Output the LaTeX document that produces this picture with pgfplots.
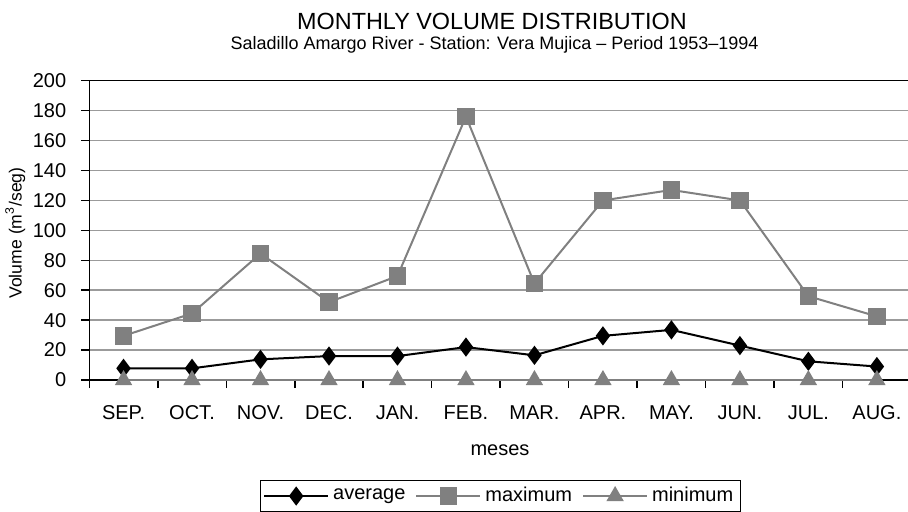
\documentclass[border=0pt]{standalone}
\usepackage{pgfplots}
\pgfplotsset{compat=1.18}
\usepackage{fontspec}
\setmainfont{Liberation Sans}

\definecolor{maxgray}{RGB}{128,128,128}
\definecolor{gridgray}{RGB}{155,155,155}

\begin{document}
\begin{tikzpicture}
\clip (-44.65pt,-65.5pt) rectangle (409.35pt,190pt);
\begin{axis}[
    at={(0pt,0pt)}, anchor=south west,
    scale only axis,
    width=410.9pt, height=149.65pt,
    xmin=-0.5, xmax=11.5,
    ymin=0, ymax=200,
    xtick={0,...,11},
    xticklabels={SEP.,OCT.,NOV.,DEC.,JAN.,FEB.,MAR.,APR.,MAY.,JUN.,JUL.,AUG.},
    minor xtick={-0.5,0.5,...,11.5},
    ytick={0,20,...,200},
    xtick pos=bottom, ytick pos=left,
    tick align=outside,
    major tick length=4pt, minor tick length=4pt,
    major x tick style={draw=none},
    every tick/.style={black, line width=0.75pt},
    axis line style={black, line width=0.75pt},
    ymajorgrids,
    major grid style={gridgray, line width=0.75pt},
    /pgf/number format/assume math mode=true,
    tick label style={font=\fontsize{10}{12}\selectfont},
    xticklabel style={anchor=base, yshift=-15.5pt},
    yticklabel style={anchor=east, xshift=-4pt},
    clip=false,
    legend columns=3,
    legend style={at={(0.5,-0.3876)}, anchor=center, draw=black, line width=0.6pt,
        font=\fontsize{10}{12}\selectfont, inner sep=1.5pt,
        /tikz/every even column/.append style={column sep=3pt}},
    legend image code/.code={\draw[mark repeat=2, mark phase=2]
        plot coordinates {(0pt,0pt) (16pt,0pt) (32pt,0pt)};},
]
\addplot[black, line width=1pt, mark=diamond*, mark size=4pt, mark options={solid, fill=black}]
coordinates {(0,7.8) (1,7.8) (2,13.8) (3,16) (4,16) (5,22) (6,16.5) (7,29.5) (8,33.5) (9,23) (10,12.5) (11,9)};
\addlegendentry{average}
\addplot[maxgray, line width=1pt, mark=square*, mark size=3.9pt, mark options={solid, fill=maxgray}]
coordinates {(0,29.5) (1,44.5) (2,84.5) (3,52) (4,69.5) (5,176) (6,64.5) (7,120) (8,127) (9,120) (10,56) (11,42.5)};
\addlegendentry{maximum}
\addplot[maxgray, line width=1pt, mark=triangle*, mark size=4pt, mark options={solid, fill=maxgray}]
coordinates {(0,0) (1,0) (2,0) (3,0) (4,0) (5,0) (6,0) (7,0) (8,0) (9,0) (10,0) (11,0)};
\addlegendentry{minimum}
\end{axis}
\node[anchor=base, font=\fontsize{11.7}{14}\selectfont] at (201.35pt,175.5pt) {MONTHLY VOLUME DISTRIBUTION};
\node[anchor=base, font=\fontsize{9}{11}\selectfont] at (202.6pt,165.5pt) {Saladillo Amargo River - Station: Vera Mujica – Period 1953–1994};
\node[anchor=base, font=\fontsize{10}{12}\selectfont] at (205.35pt,-37.5pt) {meses};
\node[rotate=90, font=\fontsize{8.8}{11}\selectfont] at (-37pt,73.5pt) {Volume (m\textsuperscript{3}/seg)};
\end{tikzpicture}
\end{document}
